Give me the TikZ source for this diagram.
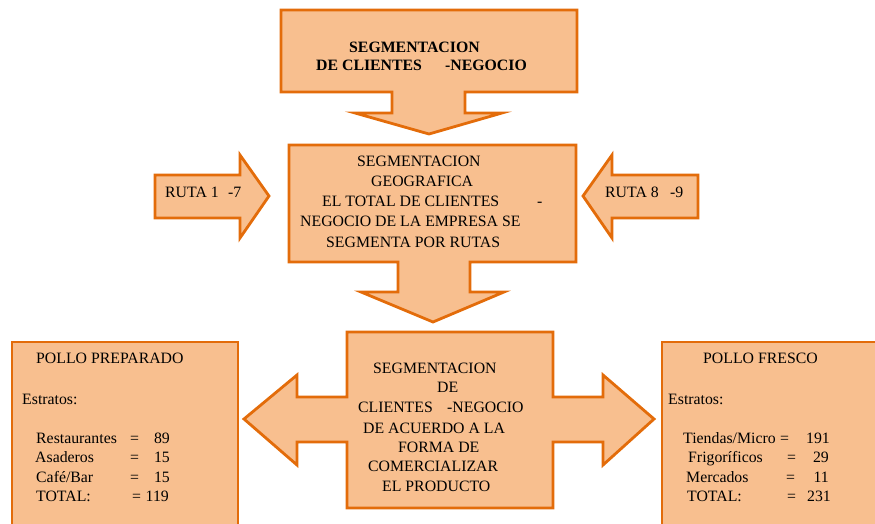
\documentclass[tikz,border=0pt]{standalone}
\usepackage{fontspec}
\setmainfont{Liberation Serif}
\newfontfamily\tnrfont{Liberation Serif}
\definecolor{peach}{HTML}{F8BF8F}
\definecolor{edge}{HTML}{E36C0A}
\begin{document}
\begin{tikzpicture}[x=1pt,y=-1pt,
  blk/.style={fill=peach,draw=edge,line width=2.8pt,line join=miter},
  txt/.style={inner sep=0pt,anchor=base west,font=\tnrfont\fontsize{15.8}{19}\selectfont,text=black},
  txtr/.style={txt,anchor=base east},
  btxt/.style={txt,font=\tnrfont\fontsize{15.8}{19}\selectfont\bfseries}]
\useasboundingbox (0,0) rectangle (875,524);
\clip (0,0) rectangle (875,524);
% top arrow
\draw[blk] (281,10) -- (577,10) -- (577,92) -- (465,92) -- (465,113) -- (502,113) -- (429,134) -- (355,113) -- (392,113) -- (392,92) -- (281,92) -- cycle;
% middle arrow
\draw[blk] (289,145) -- (576,145) -- (576,262) -- (470,262) -- (470,292) -- (504,292) -- (433,322) -- (361,292) -- (398,292) -- (398,262) -- (289,262) -- cycle;
% ruta arrows
\draw[blk] (155,175) -- (240,175) -- (240,155) -- (269,196) -- (240,238) -- (240,218) -- (155,218) -- cycle;
\draw[blk] (698,175) -- (612,175) -- (612,155) -- (583,196) -- (612,238) -- (612,218) -- (698,218) -- cycle;
% bottom double arrow
\draw[blk] (347,332) -- (553,332) -- (553,397) -- (603,397) -- (603,375) -- (654,419) -- (603,465) -- (603,442) -- (553,442) -- (553,508) -- (347,508) -- (347,442) -- (297,442) -- (297,465) -- (244,419) -- (297,375) -- (297,397) -- (347,397) -- cycle;
% side boxes
\draw[blk] (12,342) rectangle (238,545);
\draw[blk] (662,342) rectangle (895,545);
% top texts
\node[btxt] (t1) at (349,52.3) {SEGMENTACION};
\node[btxt] (t2) at (316,71) {DE CLIENTES};
\node[btxt] (t3) at (445,71) {-NEGOCIO};
% middle texts
\node[txt] (m1) at (357,166) {SEGMENTACION};
\node[txt] (m2) at (371,186) {GEOGRAFICA};
\node[txt] (m3) at (322,206) {EL TOTAL DE CLIENTES};
\node[txt] (m3b) at (537,206) {-};
\node[txt] (m4) at (300,226) {NEGOCIO DE LA EMPRESA SE};
\node[txt] (m5) at (326,247) {SEGMENTA POR RUTAS};
% rutas
\node[txt] (r1) at (165,197) {RUTA 1};
\node[txt] (r1b) at (228,197) {-7};
\node[txt] (r8) at (605,197) {RUTA 8};
\node[txt] (r8b) at (670,197) {-9};
% bottom middle texts
\node[txt] (b1) at (373,373) {SEGMENTACION};
\node[txt] (b2) at (437,392) {DE};
\node[txt] (b3) at (358,412) {CLIENTES};
\node[txt] (b3b) at (447,412) {-NEGOCIO};
\node[txt] (b4) at (363,433) {DE ACUERDO A LA};
\node[txt] (b5) at (398,452) {FORMA DE};
\node[txt] (b6) at (368,471) {COMERCIALIZAR};
\node[txt] (b7) at (382,491) {EL PRODUCTO};
% left box
\node[txt] (l1) at (36,363) {POLLO PREPARADO};
\node[txt] (l2) at (22,404) {Estratos:};
\node[txt] (l3) at (36,443) {Restaurantes};
\node[txt] (l3e) at (130,443) {=};
\node[txtr] (l3n) at (170,443) {89};
\node[txt] (l4) at (35,462) {Asaderos};
\node[txt] (l4e) at (130,462) {=};
\node[txtr] (l4n) at (170,462) {15};
\node[txt] (l5) at (36,482) {Café/Bar};
\node[txt] (l5e) at (130,482) {=};
\node[txtr] (l5n) at (170,482) {15};
\node[txt] (l6) at (36,501) {TOTAL:};
\node[txt] (l6e) at (132,501) {=};
\node[txtr] (l6n) at (169,501) {119};
% right box
\node[txt] (q1) at (703,363) {POLLO FRESCO};
\node[txt] (q2) at (668,404) {Estratos:};
\node[txt] (q3) at (683,443) {Tiendas/Micro};
\node[txt] (q3e) at (780,443) {=};
\node[txtr] (q3n) at (830,443) {191};
\node[txt] (q4) at (688,462) {Frigoríficos};
\node[txt] (q4e) at (787,462) {=};
\node[txtr] (q4n) at (829,462) {29};
\node[txt] (q5) at (686,482) {Mercados};
\node[txt] (q5e) at (786,482) {=};
\node[txtr] (q5n) at (829,482) {11};
\node[txt] (q6) at (687,501) {TOTAL:};
\node[txt] (q6e) at (787,501) {=};
\node[txtr] (q6n) at (831,501) {231};
\end{tikzpicture}
\end{document}
